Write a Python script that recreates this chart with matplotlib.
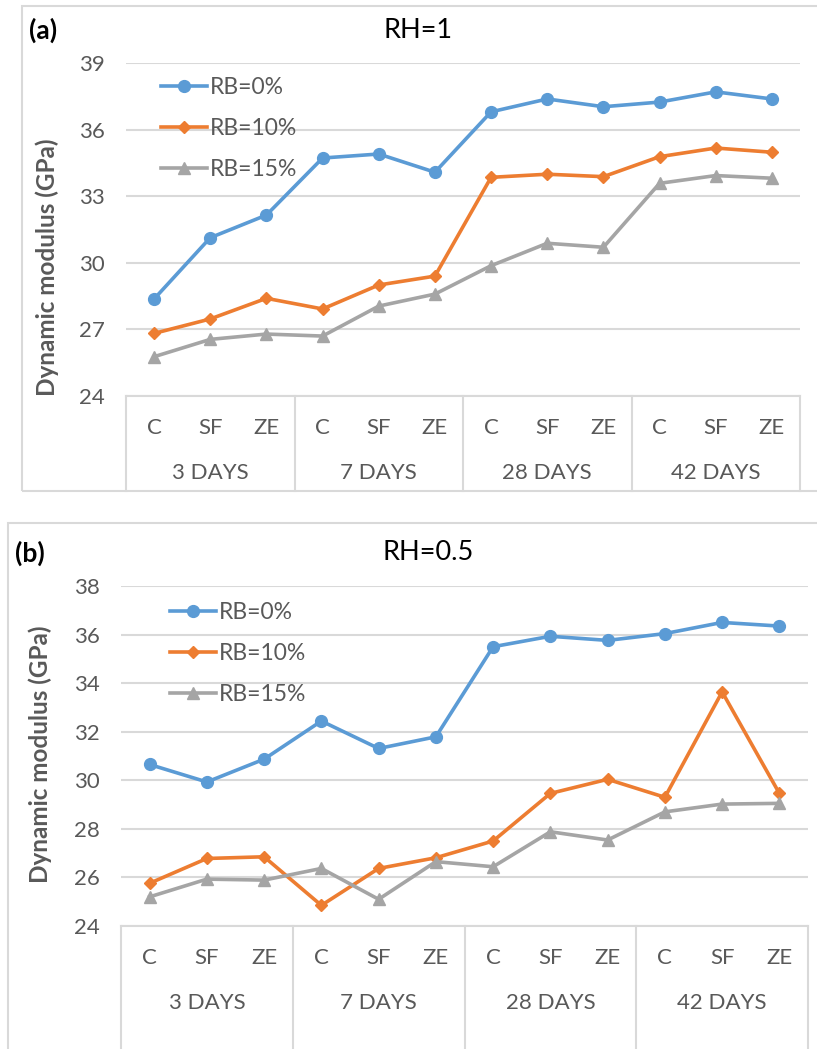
import matplotlib
matplotlib.use("Agg")
import matplotlib.pyplot as plt
from matplotlib.patches import Rectangle

plt.rcParams['font.family'] = ['Lato', 'DejaVu Sans']

# data
sub_labels = ['C', 'SF', 'ZE'] * 4
day_groups = ['3 DAYS', '7 DAYS', '28 DAYS', '42 DAYS']
series_names = ['RB=0%', 'RB=10%', 'RB=15%']

rh1_rb0 = [28.37, 31.13, 32.15, 34.72, 34.90, 34.08, 36.80, 37.38, 37.03, 37.24, 37.70, 37.38]
rh1_rb10 = [26.82, 27.47, 28.40, 27.92, 29.00, 29.40, 33.85, 33.99, 33.88, 34.78, 35.17, 34.98]
rh1_rb15 = [25.77, 26.55, 26.79, 26.70, 28.05, 28.59, 29.87, 30.88, 30.70, 33.58, 33.93, 33.81]

rh05_rb0 = [30.65, 29.93, 30.87, 32.44, 31.31, 31.79, 35.50, 35.93, 35.76, 36.04, 36.50, 36.35]
rh05_rb10 = [25.76, 26.78, 26.85, 24.85, 26.37, 26.81, 27.50, 29.46, 30.04, 29.30, 33.64, 29.46]
rh05_rb15 = [25.20, 25.93, 25.89, 26.37, 25.10, 26.65, 26.44, 27.88, 27.54, 28.70, 29.02, 29.05]

colors = ['#5B9BD5', '#ED7D31', '#A5A5A5']
markers = ['o', 'D', '^']
msizes = [8.5, 6.5, 8]
grid_c = '#D9D9D9'
text_c = '#595959'

W, H = 817, 1049
fig = plt.figure(figsize=(W / 100, H / 100), dpi=100)


def fx(px):
    return px / W


def fy(py):
    return 1 - py / H


def panel(left, right, top, bottom, cat_bottom, frame, tag, title, title_x,
          series, yticks, ylabel_x, ylabel_y, legend_anchor):
    ax = fig.add_axes([fx(left), fy(bottom), fx(right - left), (bottom - top) / H])
    fig.patches.append(Rectangle((fx(frame[0]), fy(frame[3])), fx(frame[2] - frame[0]),
                                 (frame[3] - frame[1]) / H, transform=fig.transFigure,
                                 fill=False, edgecolor=grid_c, lw=1.5))
    x = list(range(len(sub_labels)))
    for vals, name, c, m, ms in zip(series, series_names, colors, markers, msizes):
        ax.plot(x, vals, color=c, lw=2.6, marker=m, markersize=ms, label=name,
                markeredgecolor=c, zorder=3)
    ax.set_xlim(-0.5, len(x) - 0.5)
    ax.set_ylim(yticks[0], yticks[-1])
    ax.set_yticks(yticks)
    ax.grid(axis='y', color=grid_c, lw=1.5)
    ax.set_axisbelow(True)
    for s in ['left', 'right', 'top']:
        ax.spines[s].set_visible(False)
    ax.spines['bottom'].set_color(grid_c)
    ax.spines['bottom'].set_linewidth(1.5)
    ax.tick_params(axis='y', length=0, pad=15, labelsize=16, labelcolor=text_c)
    ax.set_xticks(x)
    ax.set_xticklabels(sub_labels)
    ax.tick_params(axis='x', length=0, pad=16, labelsize=16, labelcolor=text_c)

    # group labels and separators of the category axis
    h = bottom - top
    tr = ax.get_xaxis_transform()
    depth = (cat_bottom - bottom) / h
    for b in [-0.5, 2.5, 5.5, 8.5, 11.5]:
        ax.plot([b, b], [0, -depth], transform=tr, color=grid_c, lw=1.5, clip_on=False)
    for i, g in enumerate(day_groups):
        ax.text(3 * i + 1, -77 / h, g, transform=tr,
                ha='center', va='center', fontsize=16, color=text_c)

    fig.text(fx(frame[0] + 7), fy(top - 33), tag, fontsize=19, fontweight='bold',
             va='center', ha='left', color='black')
    fig.text(fx(title_x), fy(top - 33), title, fontsize=19.5, va='center', ha='center',
             color='black')
    fig.text(fx(ylabel_x), fy(ylabel_y), 'Dynamic modulus (GPa)', rotation=90,
             fontsize=17.5, fontweight='bold', color=text_c, ha='center', va='center')

    ax.legend(loc='upper left', bbox_to_anchor=legend_anchor, frameon=False,
              fontsize=16.5, labelcolor=text_c, handlelength=2.0,
              handletextpad=0.15, labelspacing=0.88, borderaxespad=0)
    return ax


panel(126, 800, 63, 396, 491, (22, 6, 830, 491), '(a)', 'RH=1', 418,
      [rh1_rb0, rh1_rb10, rh1_rb15], [24, 27, 30, 33, 36, 39], 47, 267,
      (0.038, 0.985))

panel(121, 808, 586, 926, 1060, (8, 523, 830, 1060), '(b)', 'RH=0.5', 428,
      [rh05_rb0, rh05_rb10, rh05_rb15], [24, 26, 28, 30, 32, 34, 36, 38], 40, 754,
      (0.058, 0.98))

fig.savefig('out.png', dpi=100)
